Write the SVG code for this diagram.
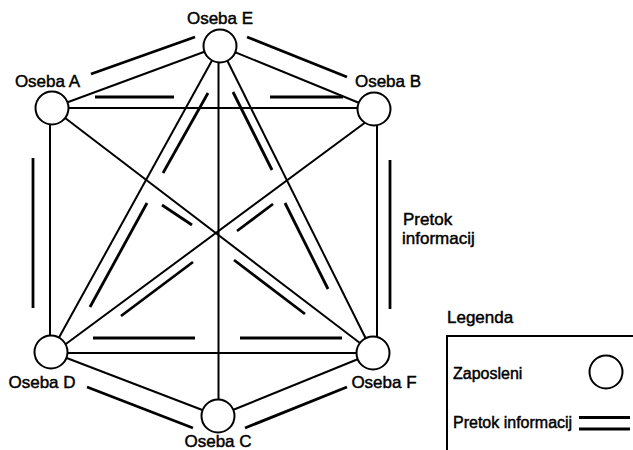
<svg xmlns="http://www.w3.org/2000/svg" width="633" height="450" viewBox="0 0 633 450">
  <style>
    .link { stroke: #000; stroke-width: 2; fill: none; }
    .flow { stroke: #000; stroke-width: 2.8; fill: none; stroke-linecap: butt; }
    .node { fill: #fff; stroke: #000; stroke-width: 2; }
    .label { font-family: "Liberation Sans", Arial, sans-serif; font-size: 17px; fill: #000; stroke: #000; stroke-width: 0.45; }
    .small { font-family: "Liberation Sans", Arial, sans-serif; font-size: 16px; fill: #000; stroke: #000; stroke-width: 0.45; }
  </style>
  <rect width="633" height="450" fill="#fff"/>

  <!-- communication links between employees, with the information-flow strokes beside them -->
  <g id="connectors">
    <line class="link" x1="52" y1="108" x2="220" y2="46"/>
    <line class="link" x1="220" y1="46" x2="374" y2="109"/>
    <line class="link" x1="52" y1="108" x2="374" y2="108"/>
    <line class="link" x1="50" y1="108" x2="50" y2="352"/>
    <line class="link" x1="377" y1="109" x2="377" y2="353"/>
    <line class="link" x1="51" y1="353" x2="373" y2="353"/>
    <line class="link" x1="51" y1="352" x2="218" y2="416"/>
    <line class="link" x1="218" y1="416" x2="373" y2="353"/>
    <line class="link" x1="218.5" y1="46" x2="218.5" y2="416"/>
    <line class="link" x1="52" y1="108" x2="373" y2="353"/>
    <line class="link" x1="374" y1="116" x2="51" y2="355"/>
    <line class="link" x1="220" y1="46" x2="51" y2="352"/>
    <line class="link" x1="220" y1="46" x2="373" y2="353"/>

    <line class="flow" x1="91" y1="74" x2="195" y2="37"/>
    <line class="flow" x1="247" y1="37" x2="347" y2="77"/>
    <line class="flow" x1="95" y1="97" x2="174" y2="97"/>
    <line class="flow" x1="270" y1="97" x2="343" y2="97"/>
    <line class="flow" x1="33" y1="158" x2="33" y2="308"/>
    <line class="flow" x1="390" y1="160" x2="390" y2="309"/>
    <line class="flow" x1="93" y1="338" x2="195" y2="338"/>
    <line class="flow" x1="240" y1="338" x2="342" y2="338"/>
    <line class="flow" x1="87" y1="387" x2="193" y2="428"/>
    <line class="flow" x1="245" y1="428" x2="347" y2="387"/>
    <line class="flow" x1="208" y1="93" x2="163" y2="173"/>
    <line class="flow" x1="147" y1="203" x2="90" y2="307"/>
    <line class="flow" x1="233" y1="92" x2="272" y2="170"/>
    <line class="flow" x1="285" y1="203" x2="328" y2="289"/>
    <line class="flow" x1="162" y1="205" x2="192" y2="225"/>
    <line class="flow" x1="234" y1="260" x2="305" y2="314"/>
    <line class="flow" x1="273" y1="204" x2="237" y2="231"/>
    <line class="flow" x1="193" y1="262" x2="121" y2="316"/>
  </g>

  <g id="oseba-e">
    <circle class="node" cx="220" cy="46" r="16.5"/>
    <text class="label" x="220" y="24" text-anchor="middle">Oseba E</text>
  </g>
  <g id="oseba-a">
    <circle class="node" cx="52" cy="108" r="16.5"/>
    <text class="label" x="47.5" y="87" text-anchor="middle">Oseba A</text>
  </g>
  <g id="oseba-b">
    <circle class="node" cx="374" cy="109" r="16.5"/>
    <text class="label" x="388" y="87" text-anchor="middle">Oseba B</text>
  </g>
  <g id="oseba-d">
    <circle class="node" cx="51" cy="352" r="16.5"/>
    <text class="label" x="42" y="388" text-anchor="middle">Oseba D</text>
  </g>
  <g id="oseba-c">
    <circle class="node" cx="218" cy="416" r="16.5"/>
    <text class="label" x="218" y="447" text-anchor="middle">Oseba C</text>
  </g>
  <g id="oseba-f">
    <circle class="node" cx="373" cy="353" r="16.5"/>
    <text class="label" x="384" y="388" text-anchor="middle">Oseba F</text>
  </g>

  <g id="flow-label">
    <text class="label" x="403" y="225">Pretok</text>
    <text class="label" x="402" y="244">informacij</text>
  </g>

  <g id="legend">
    <text class="label" x="447" y="323">Legenda</text>
    <path d="M447 450 V336 H633" fill="none" stroke="#000" stroke-width="2"/>
    <text class="small" x="453" y="379">Zaposleni</text>
    <circle class="node" cx="606" cy="372" r="16.5"/>
    <text class="small" x="453" y="428">Pretok informacij</text>
    <line class="flow" x1="579" y1="417.5" x2="630" y2="417.5"/>
    <line class="flow" x1="579" y1="429" x2="630" y2="429"/>
  </g>
</svg>
